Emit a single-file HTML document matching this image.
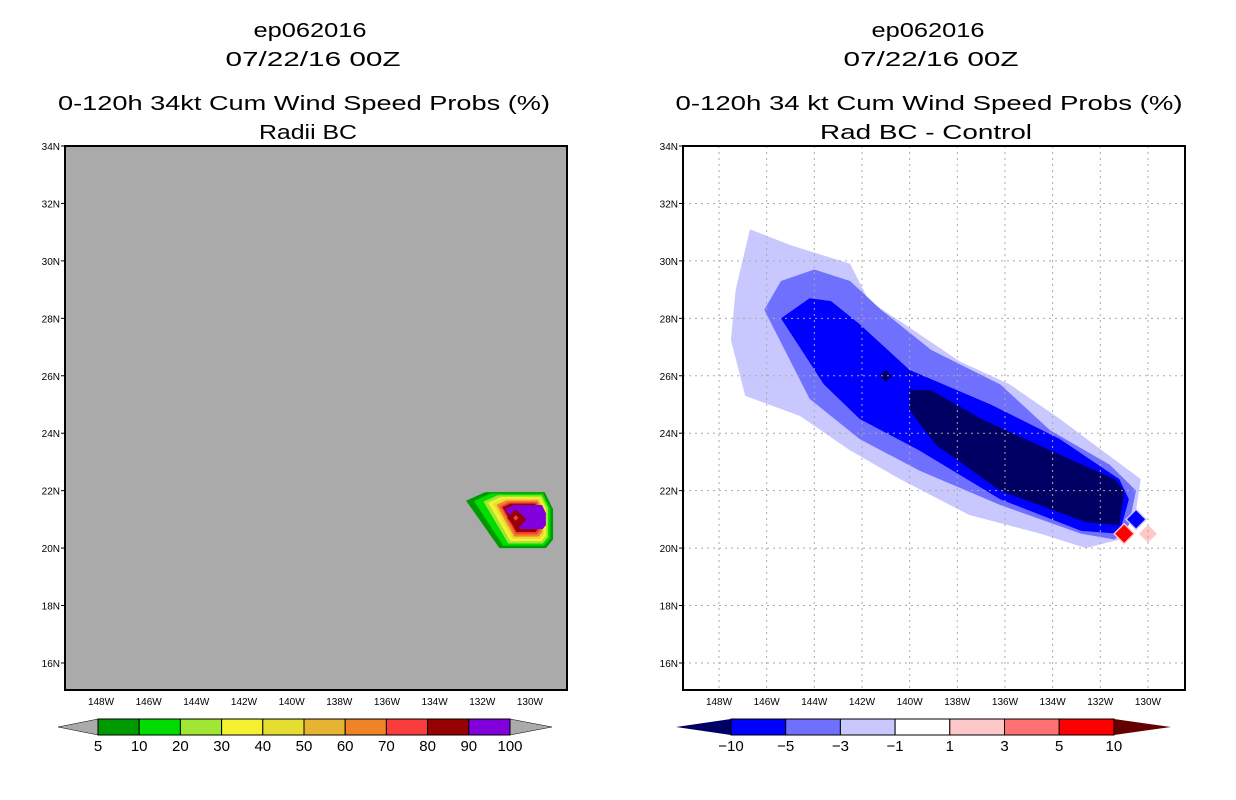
<!DOCTYPE html>
<html><head><meta charset="utf-8">
<style>
body{margin:0;background:#fff;width:1236px;height:800px;overflow:hidden;font-family:"Liberation Sans",sans-serif}
svg{position:absolute;left:0;top:0}
</style></head><body>
<svg id="s" width="1236" height="800" xmlns="http://www.w3.org/2000/svg"></svg>
<script>
const latTicks=[34,32,30,28,26,24,22,20,18,16];
const lonTicks=[148,146,144,142,140,138,136,134,132,130];
const probLevels=[5,10,20,30,50,60,70,80,90];
const probWest=[132.68,132.35,131.95,131.75,131.55,131.4,131.25,131.15,131.05];
const probEast=[129.03,129.14,129.24,129.32,129.40,129.48,129.56,129.64,129.33];
const probSouth=[20.0,20.08,20.16,20.24,20.32,20.4,20.48,20.56,20.66];
const probNorth=[21.95,21.9,21.84,21.78,21.72,21.66,21.6,21.55,21.5];
const probColors=['#009900','#00dd00','#a0e632','#f5f032','#e6dc32','#f08228','#fa3c3c','#960000','#8200dc'];
const diffLevels=[-1,-3,-5,-10];
const diffLon=[
[146.7,145.0,142.5,141.7,140.4,137.9,135.8,133.7,131.6,130.3,130.5,131.2,132.6,134.5,137.5,140.4,142.5,144.6,146.9,147.5,147.3],
[146.1,145.4,144.0,142.5,141.2,139.1,136.2,134.1,131.6,130.5,130.8,131.4,132.8,136.2,139.6,142.1,144.2,145.0],
[145.4,144.2,143.3,142.1,140.0,136.6,133.7,131.2,130.8,131.2,132.8,136.2,139.6,142.1,143.6],
[140.0,139.1,137.0,134.1,131.4,131.0,131.2,132.6,136.2,138.9,140.0]];
const diffLat=[
[31.1,30.55,29.9,28.6,27.9,26.5,25.7,24.5,23.2,22.4,21.3,20.3,20.0,20.5,21.15,22.4,23.4,24.6,25.3,27.25,29.0],
[28.3,29.3,29.7,29.3,28.3,26.9,25.7,24.1,22.9,22.0,20.8,20.3,20.5,21.5,22.7,23.8,25.2,26.5],
[28.0,28.7,28.6,27.8,26.2,25.0,23.8,22.4,21.7,20.5,20.6,21.7,23.4,24.5,25.7],
[25.5,25.5,24.5,23.4,22.4,22.0,20.8,20.9,22.0,23.6,24.8]];
const diffColors=['#c8c8ff','#7070ff','#0000ff','#000064'];
const spotLon=[141,131,130,130.5];
const spotLat=[26,20.5,20.5,21];
const spotColors=['#000064','#ff0000','#ffc8c8','#0000ff'];

const NS='http://www.w3.org/2000/svg';
const s=document.getElementById('s');
function el(t,a,p){const e=document.createElementNS(NS,t);for(const k in a)e.setAttribute(k,a[k]);(p||s).appendChild(e);return e;}
function txt(x,y,str,size,anchor,p,len){const a={x:x,y:y,'font-size':size,'text-anchor':anchor||'middle',fill:'#000'};if(len){a.textLength=len;a.lengthAdjust='spacingAndGlyphs';}const e=el('text',a,p);e.textContent=str;return e;}
function axes(x0){return{x:l=>x0+36+(148-l)*23.83,y:la=>146+(34-la)*28.72};}

function panel(x0,title3,title4,w3,w4,name){
  const g=el('g',{});
  
  
  const cx=x0+245;
  let t;
  t=txt(cx+65-x0+x0-65+0,37,'ep062016',20,'middle',g,113);t.setAttribute('x',x0+245);
  t=txt(cx+3,66,'07/22/16 00Z',20,'middle',g,175);
  t=txt(cx+(x0==65?-6:1),110,title3,20,'middle',g,w3);
  t=txt(cx+(x0==65?-2:-2),139,title4,20,'middle',g,w4);
  return g;
}
function frame(x0,g,grid){
  const A=axes(x0);
  if(grid){
    lonTicks.forEach(l=>{const e=el('line',{x1:A.x(l),x2:A.x(l),y1:146,y2:690,stroke:'#aaa','stroke-dasharray':'2,4'},g);});
    latTicks.forEach(l=>{const e=el('line',{x1:x0,x2:x0+502,y1:A.y(l),y2:A.y(l),stroke:'#aaa','stroke-dasharray':'2,4'},g);});
  }
  const f=el('rect',{x:x0,y:146,width:502,height:544,fill:'none',stroke:'#000','stroke-width':2},g);
  
  latTicks.forEach(l=>{const y=A.y(l);el('line',{x1:x0-4,x2:x0,y1:y,y2:y,stroke:'#000'},g);
    const e=txt(x0-5,y+4,l+'N',10,'end',g);});
  lonTicks.forEach(l=>{const x=A.x(l);
    const e=txt(x,705,l+'W',10,'middle',g);});
}
function blob(A,w,e,so,n){const k=(w-e)/3.65;
  const pts=[[w,n-0.3*k],[w-0.8*k,n],[e+0.35*k,n],[e,n-0.6*k],[e,so+0.3*k],[e+0.3*k,so],[w-1.4*k,so]];
  return pts.map(p=>A.x(p[0])+','+A.y(p[1])).join(' ');}

// LEFT
const gl=panel(65,'0-120h 34kt Cum Wind Speed Probs (%)','Radii BC',492,98,'left-panel');
{const A=axes(65);
 const bg=el('rect',{x:65,y:146,width:502,height:544,fill:'#aaaaaa'},gl);
 
 probLevels.forEach((lv,i)=>{
   const p=el('polygon',{points:blob(A,probWest[i],probEast[i],probSouth[i],probNorth[i]),fill:probColors[i]},gl);
   
 });
 const cx=130.6,cy=21.05;
 const d=el('polygon',{points:[[cx-0.45,cy-0.05],[cx,cy+0.3],[cx+0.35,cy],[cx-0.05,cy-0.4]].map(p=>A.x(p[0])+','+A.y(p[1])).join(' '),fill:'#960000'},gl);
 
 const d2=el('polygon',{points:[[cx-0.12,cy],[cx,cy+0.1],[cx+0.1,cy],[cx,cy-0.1]].map(p=>A.x(p[0])+','+A.y(p[1])).join(' '),fill:'#fa3c3c'},gl);
 
 frame(65,gl,false);
 const cb=el('g',{},gl);
 const labs=['5','10','20','30','40','50','60','70','80','90','100'];
 const cols=['#009900','#00dd00','#a0e632','#f5f032','#e6dc32','#e6b432','#f08228','#fa3c3c','#960000','#8200dc'];
 el('polygon',{points:'58,727 98,719 98,735',fill:'#aaaaaa',stroke:'#000','stroke-width':0.5},cb);
 el('polygon',{points:'552,727 510,719 510,735',fill:'#aaaaaa',stroke:'#000','stroke-width':0.5},cb);
 cols.forEach((c,i)=>{const r=el('rect',{x:98+i*41.2,y:719,width:41.2,height:16,fill:c,stroke:'#000'},cb);});
 labs.forEach((l,i)=>{const e=txt(98+i*41.2,751,l,15,'middle',cb);});
}
// RIGHT
const gr=panel(683,'0-120h 34 kt Cum Wind Speed Probs (%)','Rad BC - Control',507,212,'right-panel');
{const A=axes(683);
 diffLevels.forEach((lv,i)=>{
   const pts=diffLon[i].map((l,j)=>A.x(l)+','+A.y(diffLat[i][j])).join(' ');
   const p=el('polygon',{points:pts,fill:diffColors[i]},gr);
   
 });
 spotLon.forEach((l,i)=>{const x=A.x(l),y=A.y(spotLat[i]);const r=i==0?6:9;
   if(i==3) el('polygon',{points:`${x-r-2},${y} ${x},${y-r-2} ${x+r+2},${y} ${x},${y+r+2}`,fill:'#c8c8ff'},gr);
   if(i==1) el('polygon',{points:`${x-r-2},${y} ${x},${y-r-2} ${x+r+2},${y} ${x},${y+r+2}`,fill:'#ffc8c8'},gr);
   const p=el('polygon',{points:`${x-r},${y} ${x},${y-r} ${x+r},${y} ${x},${y+r}`,fill:spotColors[i]},gr);
   });
 frame(683,gr,true);
 const cb=el('g',{},gr);
 const labs=['-10','-5','-3','-1','1','3','5','10'];
 const cols=['#0000ff','#7070ff','#c8c8ff','#ffffff','#ffc8c8','#ff7070','#ff0000'];
 el('polygon',{points:'676,727 731,719 731,735',fill:'#000064'},cb);
 el('polygon',{points:'1171,727 1114,719 1114,735',fill:'#640000'},cb);
 cols.forEach((c,i)=>{const r=el('rect',{x:731+i*54.7,y:719,width:54.7,height:16,fill:c,stroke:'#000'},cb);});
 labs.forEach((l,i)=>{const e=txt(731+i*54.7,751,l.replace('-','\u2212'),15,'middle',cb);});
}
</script>
</body></html>
